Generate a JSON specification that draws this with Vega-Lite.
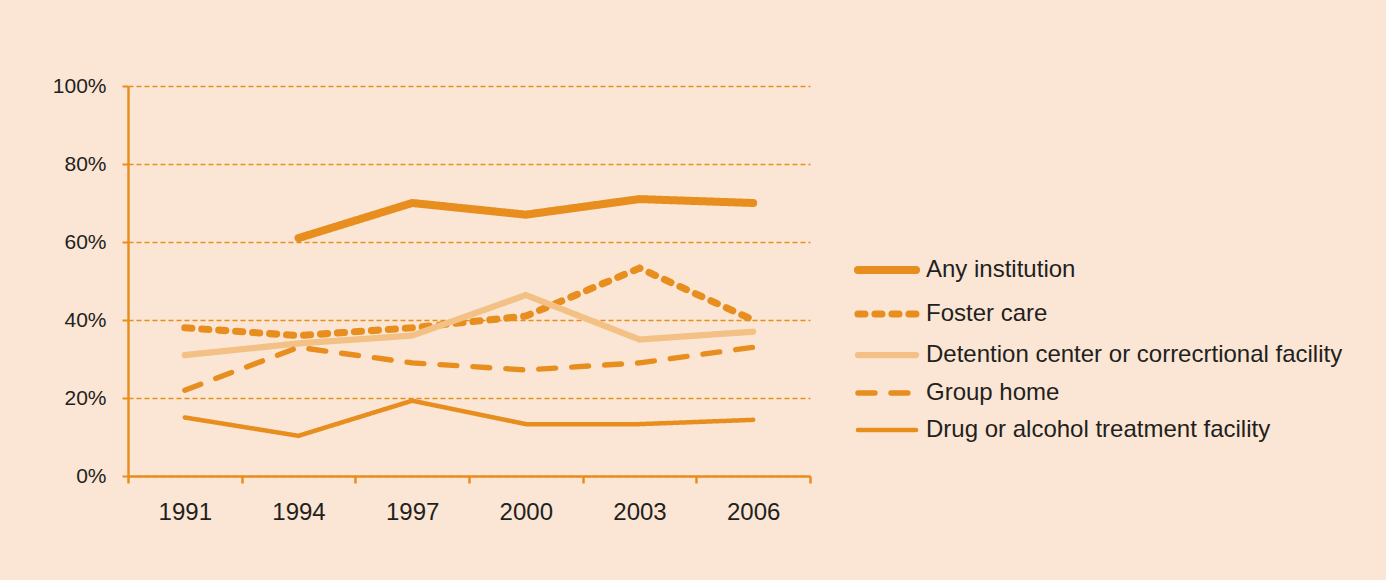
{
  "$schema": "https://vega.github.io/schema/vega-lite/v6.json",
  "width": 682,
  "height": 390,
  "autosize": "none",
  "padding": {"left": 128, "top": 86, "right": 576, "bottom": 104},
  "background": "#FBE6D5",
  "config": {
    "view": {"stroke": null},
    "font": "Liberation Sans",
    "axis": {"labelFont": "Liberation Sans", "labelColor": "#231F20"}
  },
  "data": {
    "values": [
      {"year": 1994, "series": "Any institution", "value": 0.61},
      {"year": 1997, "series": "Any institution", "value": 0.70},
      {"year": 2000, "series": "Any institution", "value": 0.67},
      {"year": 2003, "series": "Any institution", "value": 0.71},
      {"year": 2006, "series": "Any institution", "value": 0.70},
      {"year": 1991, "series": "Foster care", "value": 0.38},
      {"year": 1994, "series": "Foster care", "value": 0.36},
      {"year": 1997, "series": "Foster care", "value": 0.38},
      {"year": 2000, "series": "Foster care", "value": 0.41},
      {"year": 2003, "series": "Foster care", "value": 0.533},
      {"year": 2006, "series": "Foster care", "value": 0.40},
      {"year": 1991, "series": "Detention center or correcrtional facility", "value": 0.31},
      {"year": 1994, "series": "Detention center or correcrtional facility", "value": 0.34},
      {"year": 1997, "series": "Detention center or correcrtional facility", "value": 0.36},
      {"year": 2000, "series": "Detention center or correcrtional facility", "value": 0.464},
      {"year": 2003, "series": "Detention center or correcrtional facility", "value": 0.35},
      {"year": 2006, "series": "Detention center or correcrtional facility", "value": 0.37},
      {"year": 1991, "series": "Group home", "value": 0.22},
      {"year": 1994, "series": "Group home", "value": 0.33},
      {"year": 1997, "series": "Group home", "value": 0.29},
      {"year": 2000, "series": "Group home", "value": 0.272},
      {"year": 2003, "series": "Group home", "value": 0.29},
      {"year": 2006, "series": "Group home", "value": 0.33},
      {"year": 1991, "series": "Drug or alcohol treatment facility", "value": 0.15},
      {"year": 1994, "series": "Drug or alcohol treatment facility", "value": 0.103},
      {"year": 1997, "series": "Drug or alcohol treatment facility", "value": 0.193},
      {"year": 2000, "series": "Drug or alcohol treatment facility", "value": 0.133},
      {"year": 2003, "series": "Drug or alcohol treatment facility", "value": 0.133},
      {"year": 2006, "series": "Drug or alcohol treatment facility", "value": 0.144}
    ]
  },
  "mark": {"type": "line", "strokeCap": "round", "strokeJoin": "miter"},
  "encoding": {
    "x": {
      "field": "year",
      "type": "quantitative",
      "scale": {"domain": [1989.5, 2007.5], "nice": false, "zero": false},
      "axis": {
        "title": null,
        "values": [1989.5, 1992.5, 1995.5, 1998.5, 2001.5, 2004.5, 2007.5],
        "labelExpr": "datum.value > 2007 ? '' : '' + (datum.value + 1.5)",
        "labelOffset": 56.8,
        "labelPadding": 17,
        "labelFontSize": 24,
        "labelFlush": false,
        "labelOverlap": false,
        "grid": false,
        "domainColor": "#E88E1E",
        "domainWidth": 2.5,
        "tickColor": "#E88E1E",
        "tickWidth": 2.5,
        "tickSize": 7
      }
    },
    "y": {
      "field": "value",
      "type": "quantitative",
      "scale": {"domain": [0, 1], "nice": false},
      "axis": {
        "title": null,
        "values": [0, 0.2, 0.4, 0.6, 0.8, 1],
        "format": ".0%",
        "labelFontSize": 21,
        "labelPadding": 16,
        "grid": true,
        "gridColor": "#E88E1E",
        "gridDash": [5, 3],
        "gridWidth": 1.5,
        "domainColor": "#E88E1E",
        "domainWidth": 2.5,
        "tickColor": "#E88E1E",
        "tickWidth": 2,
        "tickSize": 6
      }
    },
    "color": {
      "field": "series",
      "type": "nominal",
      "scale": {
        "domain": ["Any institution", "Foster care", "Detention center or correcrtional facility", "Group home", "Drug or alcohol treatment facility"],
        "range": ["#E88E1E", "#E88E1E", "#F3C185", "#E88E1E", "#E88E1E"]
      },
      "legend": {
        "title": null,
        "orient": "none",
        "legendX": 747,
        "legendY": 172,
        "padding": 0,
        "symbolType": "M-5,0H5",
        "symbolSize": 135,
        "labelFontSize": 24,
        "labelColor": "#231F20",
        "labelFont": "Liberation Sans",
        "labelLimit": 600,
        "labelOffset": 27,
        "rowPadding": 13,
        "encode": {"symbols": {"update": {"strokeCap": {"value": "round"}}}}
      }
    },
    "strokeDash": {
      "field": "series",
      "type": "nominal",
      "scale": {
        "domain": ["Any institution", "Foster care", "Detention center or correcrtional facility", "Group home", "Drug or alcohol treatment facility"],
        "range": [[1, 0], [7, 10], [1, 0], [17, 16], [1, 0]]
      }
    },
    "strokeWidth": {
      "field": "series",
      "type": "nominal",
      "scale": {
        "domain": ["Any institution", "Foster care", "Detention center or correcrtional facility", "Group home", "Drug or alcohol treatment facility"],
        "range": [8, 4.5, 10, 3, 3]
      }
    }
  }
}
